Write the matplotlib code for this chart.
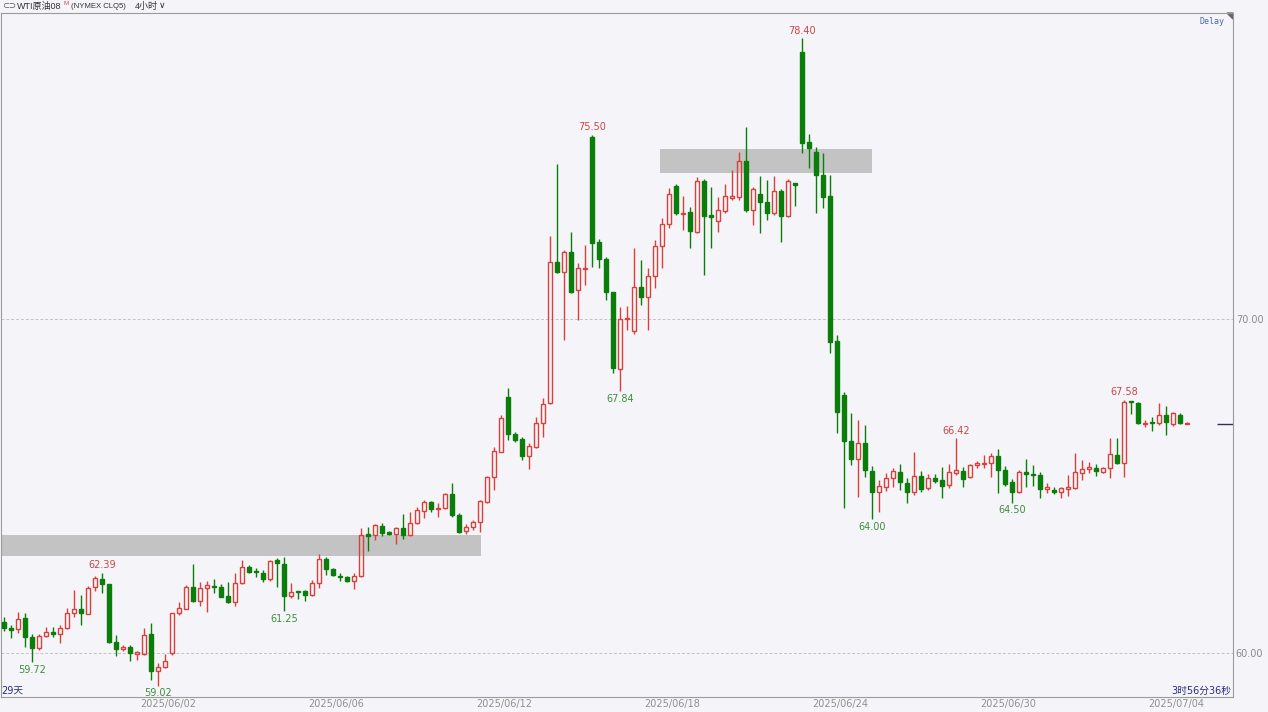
import matplotlib
matplotlib.use('Agg')
import matplotlib.pyplot as plt
from matplotlib.patches import Rectangle, Polygon

# 4h candles, WTI crude (NYMEX CLQ5)
opens = [60.93, 60.75, 60.72, 61.05, 60.48, 60.15, 60.51, 60.63, 60.57, 60.75,
         61.20, 61.32, 61.17, 61.98, 62.22, 62.07, 60.33, 60.12, 60.18, 59.97,
         59.97, 60.57, 59.46, 59.58, 60.00, 61.20, 61.32, 61.98, 61.56, 61.95,
         62.01, 61.98, 61.71, 61.53, 62.10, 62.58, 62.46, 62.40, 62.22, 62.79,
         62.67, 61.71, 61.86, 61.86, 61.74, 62.10, 62.82, 62.52, 62.31, 62.28,
         62.16, 62.31, 63.56, 63.53, 63.80, 63.62, 63.56, 63.74, 63.53, 63.89,
         64.25, 64.52, 64.31, 64.34, 64.76, 64.13, 63.65, 63.77, 63.92, 64.52,
         65.27, 66.02, 67.67, 66.56, 66.41, 65.90, 66.17, 66.89, 67.49, 71.71,
         71.41, 72.00, 70.87, 71.50, 75.45, 72.31, 71.80, 70.81, 68.50, 70.00,
         69.64, 70.96, 70.66, 71.29, 72.19, 72.84, 73.98, 73.14, 73.20, 72.61,
         74.13, 73.11, 72.93, 73.23, 73.62, 73.65, 74.73, 73.26, 73.74, 73.50,
         73.17, 73.83, 73.08, 74.07, 77.99, 75.30, 75.00, 74.31, 73.68, 69.34,
         67.72, 66.35, 65.81, 66.29, 65.45, 64.82, 64.97, 65.24, 65.42, 65.09,
         64.82, 65.30, 64.94, 65.24, 65.18, 65.03, 65.39, 65.45, 65.27, 65.63,
         65.66, 65.69, 65.90, 65.48, 65.12, 64.82, 65.42, 65.36, 65.33, 64.91,
         64.88, 64.82, 64.91, 64.94, 65.39, 65.51, 65.54, 65.42, 65.54, 65.93,
         65.69, 67.55, 67.49, 66.86, 66.92, 66.89, 67.13, 66.86, 67.13, 66.86]
highs = [61.08, 60.84, 61.23, 61.20, 60.57, 60.57, 60.78, 60.78, 60.84, 61.35,
         61.87, 61.72, 62.00, 62.30, 62.39, 62.07, 60.54, 60.24, 60.24, 60.06,
         60.75, 60.90, 59.70, 59.97, 61.20, 61.53, 62.04, 62.67, 62.13, 62.16,
         62.22, 62.07, 62.13, 62.40, 62.78, 62.63, 62.55, 62.49, 62.78, 62.85,
         62.88, 62.10, 61.86, 61.89, 62.19, 62.97, 62.88, 62.55, 62.40, 62.31,
         62.40, 63.74, 63.77, 63.86, 63.89, 63.65, 63.77, 64.16, 64.22, 64.37,
         64.58, 64.55, 64.49, 64.79, 65.09, 64.19, 63.86, 63.98, 64.58, 65.30,
         66.17, 67.13, 67.94, 66.62, 66.47, 66.29, 67.07, 67.64, 72.49, 74.64,
         72.05, 72.60, 71.68, 72.22, 75.50, 72.40, 71.86, 70.81, 70.36, 70.39,
         72.13, 71.77, 71.53, 72.37, 73.02, 73.92, 74.04, 73.68, 73.35, 74.25,
         74.19, 73.95, 73.65, 74.04, 74.46, 75.00, 75.75, 73.95, 74.28, 74.16,
         74.28, 73.89, 74.19, 74.07, 78.40, 75.54, 75.15, 74.97, 74.31, 69.52,
         67.81, 67.19, 66.98, 66.83, 65.60, 65.18, 65.39, 65.54, 65.66, 65.24,
         66.02, 65.45, 65.36, 65.36, 65.57, 65.66, 66.42, 65.57, 65.66, 65.75,
         65.93, 65.99, 66.11, 65.60, 65.21, 65.48, 65.81, 65.63, 65.42, 65.09,
         64.97, 64.97, 65.33, 65.99, 65.78, 65.72, 65.66, 65.57, 66.44, 66.44,
         67.58, 67.55, 67.52, 66.98, 67.07, 67.48, 67.40, 67.22, 67.19, 66.92]
lows = [60.66, 60.45, 60.60, 60.18, 59.72, 60.09, 60.48, 60.48, 60.30, 60.72,
        61.08, 60.84, 61.17, 61.85, 61.80, 60.30, 59.90, 60.06, 59.76, 59.79,
        59.94, 59.19, 59.02, 59.55, 59.94, 61.14, 61.32, 61.53, 61.40, 61.23,
        61.80, 61.68, 61.50, 61.41, 62.07, 62.40, 62.28, 62.13, 62.16, 61.98,
        61.25, 61.65, 61.62, 61.56, 61.71, 61.95, 62.34, 62.31, 62.16, 62.13,
        61.92, 62.28, 63.05, 63.38, 63.50, 63.53, 63.26, 63.41, 63.50, 63.86,
        64.04, 64.22, 64.07, 64.31, 64.07, 63.59, 63.56, 63.68, 63.62, 64.49,
        64.88, 66.02, 66.38, 66.32, 65.78, 65.51, 66.14, 66.47, 67.46, 71.38,
        69.37, 70.78, 69.97, 71.02, 71.56, 71.53, 70.57, 68.38, 67.84, 69.67,
        69.55, 70.42, 69.67, 70.93, 71.53, 72.72, 73.11, 72.66, 72.13, 72.58,
        71.32, 72.13, 72.61, 73.17, 73.56, 73.56, 73.20, 72.81, 72.58, 72.96,
        73.11, 72.31, 73.05, 73.38, 74.97, 74.52, 73.17, 73.32, 68.98, 66.59,
        64.34, 65.63, 64.67, 65.27, 64.00, 64.22, 64.85, 64.97, 64.88, 64.49,
        64.73, 64.82, 64.88, 65.09, 64.64, 64.94, 65.33, 64.97, 65.24, 65.54,
        65.54, 65.27, 64.79, 65.00, 64.50, 64.79, 64.97, 65.00, 64.64, 64.79,
        64.76, 64.64, 64.70, 64.91, 65.18, 65.39, 65.30, 65.39, 65.24, 65.66,
        65.27, 67.16, 66.86, 66.77, 66.65, 66.83, 66.53, 66.80, 66.86, 66.86]
closes = [60.75, 60.69, 61.02, 60.48, 60.15, 60.51, 60.63, 60.57, 60.75, 61.20,
          61.32, 61.20, 61.95, 62.25, 62.07, 60.33, 60.12, 60.18, 60.00, 60.03,
          60.54, 59.46, 59.58, 59.76, 61.20, 61.35, 61.98, 61.56, 61.95, 62.04,
          61.98, 61.68, 61.53, 62.10, 62.58, 62.43, 62.43, 62.22, 62.76, 62.70,
          61.71, 61.83, 61.83, 61.74, 62.10, 62.82, 62.52, 62.34, 62.28, 62.16,
          62.31, 63.53, 63.50, 63.83, 63.59, 63.56, 63.74, 63.53, 63.89, 64.28,
          64.52, 64.31, 64.34, 64.76, 64.13, 63.62, 63.77, 63.92, 64.55, 65.27,
          66.05, 67.04, 66.56, 66.38, 65.90, 66.20, 66.89, 67.46, 71.71, 71.41,
          72.00, 70.81, 71.53, 71.53, 72.28, 71.80, 70.81, 68.53, 70.00, 70.03,
          70.96, 70.66, 71.29, 72.19, 72.84, 73.74, 73.17, 73.17, 72.64, 74.13,
          73.08, 73.05, 73.26, 73.68, 73.68, 74.73, 73.26, 73.89, 73.50, 73.17,
          73.83, 73.08, 74.13, 74.01, 75.27, 75.12, 74.31, 73.65, 69.31, 67.22,
          66.35, 65.81, 66.29, 65.48, 64.82, 65.00, 65.24, 65.45, 65.12, 64.82,
          65.30, 64.91, 65.24, 65.15, 65.00, 65.42, 65.48, 65.21, 65.63, 65.69,
          65.69, 65.90, 65.48, 65.06, 64.82, 65.42, 65.36, 65.33, 64.91, 64.97,
          64.82, 64.94, 64.97, 65.42, 65.51, 65.57, 65.45, 65.54, 65.96, 65.69,
          67.52, 67.52, 66.89, 66.89, 66.89, 67.13, 66.92, 67.19, 66.89, 66.86]

# candles that carry a high / low label
high_marks = [14, 84, 114, 136, 160]
low_marks = [4, 22, 40, 88, 124, 144]

# shaded price zones: (first candle, last candle, low price, high price)
zones = [(-1.0, 68.1, 62.90, 63.53), (93.7, 124.0, 74.37, 75.09)]

date_labels = ['2025/06/02', '2025/06/06', '2025/06/12', '2025/06/18',
               '2025/06/24', '2025/06/30', '2025/07/04']
date_pos = [23.4 + 24 * j for j in range(len(date_labels))]

bg = '#f5f5f9'
up_col = '#d8403c'
down_col = '#0b7d0b'

plt.rcParams['font.family'] = ['DejaVu Sans', 'Noto Sans CJK SC']

fig = plt.figure(figsize=(12.68, 7.12), dpi=100, facecolor=bg)
ax = fig.add_axes([1 / 1268, 15 / 712, 1232 / 1268, 684 / 712])
ax.set_facecolor(bg)

for x0, x1, p0, p1 in zones:
    ax.add_patch(Rectangle((x0, p0), x1 - x0, p1 - p0, facecolor='#c3c3c3',
                           edgecolor='none', zorder=1))

for lvl in [60, 70]:
    ax.axhline(lvl, color='#c4c4c8', lw=0.7, ls=(0, (3, 2)), zorder=0)

w = 0.7
for i in range(len(opens)):
    o, h, l, c = opens[i], highs[i], lows[i], closes[i]
    up = c >= o
    col = up_col if up else down_col
    top, bot = max(o, c), min(o, c)
    ax.vlines(i, top, h, color=col, lw=1, zorder=2)
    ax.vlines(i, l, bot, color=col, lw=1, zorder=2)
    hgt = max(top - bot, 0.02)
    ax.bar(i, hgt, bottom=bot, width=w, facecolor='none' if up else col,
           edgecolor=col, lw=1, zorder=3)

for i in high_marks:
    ax.annotate(f'{highs[i]:.2f}', (i, highs[i]), xytext=(0, 2),
                textcoords='offset points', ha='center', va='bottom',
                color='#cc4444', fontsize=7)
for i in low_marks:
    ax.annotate(f'{lows[i]:.2f}', (i, lows[i]), xytext=(0, -2),
                textcoords='offset points', ha='center', va='top',
                color='#3d8f3d', fontsize=7)

# last price marker at the right edge
ax.hlines(closes[-1], 173.3, 175.6, color='#2e2e60', lw=1, zorder=3)

ax.set_xlim(-0.43, 175.57)
ax.set_ylim(58.68, 79.16)
ax.yaxis.tick_right()
ax.set_yticks([60, 70])
ax.set_yticklabels(['60.00', '70.00'])
ax.set_xticks(date_pos)
ax.set_xticklabels(date_labels)
ax.tick_params(axis='y', length=0, pad=2, labelsize=7, labelcolor='#8a8a8a')
ax.tick_params(axis='x', length=0, pad=1.5, labelsize=7, labelcolor='#909090')
for s in ax.spines.values():
    s.set_color('#9a9a9a')
    s.set_linewidth(0.8)

ax.add_patch(Polygon([(1, 1), (1 - 6 / 1232, 1), (1, 1 - 6 / 684)],
                     closed=True, transform=ax.transAxes, color='#666666',
                     clip_on=False))
ax.text(0.9935, 1 - 8 / 684, 'Delay', transform=ax.transAxes, ha='right',
        va='center', color='#4a66b0', fontsize=6, family='DejaVu Sans Mono')
ax.text(0.0, 6 / 684, '29天', transform=ax.transAxes, ha='left', va='center',
        color='#2b2b80', fontsize=7)
ax.text(0.9985, 6 / 684, '3时56分36秒', transform=ax.transAxes, ha='right',
        va='center', color='#2b2b80', fontsize=7)

# header line
hy = 1 - 6 / 712
hfont = ['Liberation Sans', 'Noto Sans CJK SC']
fig.text(2 / 1268, hy, '⊂⊃', color='#555555', fontsize=6, va='center',
         family=['DejaVu Sans'])
fig.text(17 / 1268, hy, 'WTI原油08', color='#333333', fontsize=6.5,
         va='center', family=hfont)
fig.text(64 / 1268, hy + 0.004, 'M', color='#d05050', fontsize=4.5,
         va='center', family=hfont)
fig.text(71 / 1268, hy, '(NYMEX CLQ5)', color='#333333', fontsize=5.6,
         va='center', family=hfont)
fig.text(135 / 1268, hy, '4小时', color='#333333', fontsize=6.5, va='center',
         family=hfont)
fig.text(159 / 1268, hy, '∨', color='#333333', fontsize=6.5, va='center',
         family=['DejaVu Sans'])

fig.savefig('out.png', dpi=100, facecolor=bg)
